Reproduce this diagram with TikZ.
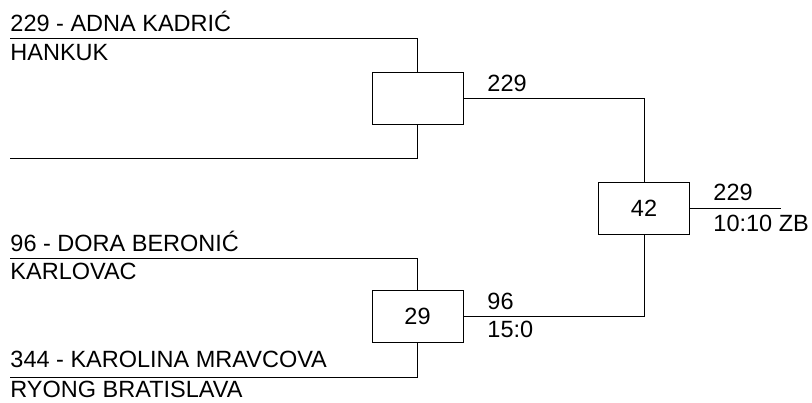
\documentclass[tikz,border=0pt]{standalone}
\usepackage{fontspec}
\setmainfont{Liberation Sans}
\begin{document}
\begin{tikzpicture}[x=1pt,y=-1pt, line width=0.9pt,
  matchbox/.style={draw, minimum width=91pt, minimum height=52pt, inner sep=0pt, font=\fontsize{23.5}{27}\selectfont},
  lbl/.style={anchor=base west, inner sep=0pt, font=\fontsize{23.5}{27}\selectfont}]
\useasboundingbox (0,0) rectangle (812,403);
\node[matchbox] (m1) at (417.5,98.5) {};
\node[matchbox] (m29) at (417.5,316.5) {29};
\node[matchbox] (m42) at (644,208) {42};
\coordinate (a1) at (10,38.5);
\coordinate (a2) at (10,158.5);
\coordinate (b1) at (10,258);
\coordinate (b2) at (10,377);
\coordinate (out) at (781,208);
\draw (a1) -| (m1.north);
\draw (a2) -| (m1.south);
\draw (b1) -| (m29.north);
\draw (b2) -| (m29.south);
\draw (m1.east) -| (m42.north);
\draw (m29.east) -| (m42.south);
\draw (m42.east) -- (out);
\node[lbl] (t1) at (10,32) {229 - ADNA KADRIĆ};
\node[lbl] (t2) at (10,61) {HANKUK};
\node[lbl] (t3) at (487,92) {229};
\node[lbl] (t4) at (10,252) {96 - DORA BERONIĆ};
\node[lbl] (t5) at (10,280) {KARLOVAC};
\node[lbl] (t6) at (10,368) {344 - KAROLINA MRAVCOVA};
\node[lbl] (t7) at (10,398) {RYONG BRATISLAVA};
\node[lbl] (t8) at (487,310) {96};
\node[lbl] (t9) at (487,338) {15:0};
\node[lbl] (t10) at (713,201) {229};
\node[lbl] (t11) at (713,232) {10:10 ZB};
\end{tikzpicture}
\end{document}
